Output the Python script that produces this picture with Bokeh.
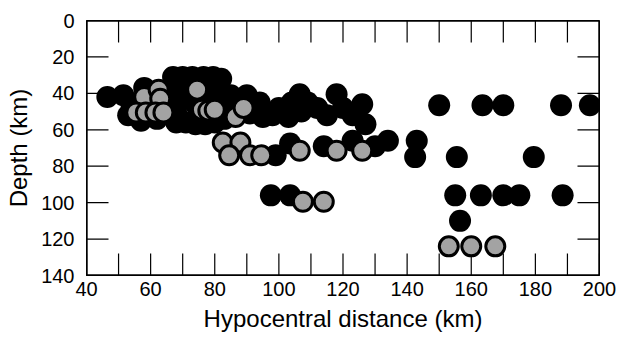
from bokeh.plotting import figure
from bokeh.models import Range1d, FixedTicker, ColumnDataSource
from bokeh.embed import file_html
from bokeh.resources import INLINE

# Black events (hypocentral distance km, depth km)
black_dist = [46.5, 51.5, 54, 53, 57, 58, 60, 62, 64, 65.5,
              67, 70, 73, 76.5, 79.5, 82,
              67, 69, 68, 68, 71, 74, 77, 80, 83,
              71, 74, 77, 80, 82, 85, 88, 90, 91, 94, 95, 98, 100, 103, 104, 106.5, 107, 109, 112, 115, 118, 120, 123, 127, 126,
              97.5, 103.5, 99, 103.5, 114, 123, 130, 134, 143, 142.5,
              150, 163.5, 170, 188, 197,
              155.5, 179.5, 155, 163, 170, 175, 188.5, 156.5]
black_depth = [42, 41, 46, 52, 55, 37, 44, 54, 40, 47,
               31, 31, 31, 31, 31, 32,
               38, 44, 51, 56, 56, 57, 57, 56, 54,
               40, 46, 40, 38, 45, 41, 46, 41, 51, 45, 53, 52, 48, 53, 45, 40.5, 50, 45, 48, 52, 40.5, 48, 52, 57, 46,
               96, 96, 74, 67.5, 69, 66, 69, 66, 66, 75,
               46.5, 46.5, 46.5, 46.5, 46.5,
               75, 75, 96, 96, 96, 96, 96, 110]

# Grey events
grey_dist = [58, 62.5, 63, 55.5, 58.5, 61.5, 64, 74.5, 76, 78, 80, 86.5, 89,
             82.5, 88, 84.5, 91, 94.5, 106.5, 118, 126, 107.5, 114,
             153, 160, 167.5]
grey_depth = [42, 38, 43, 50.5, 50.5, 50.5, 50.5, 38, 49, 49.5, 49, 53, 48,
              67, 67, 74, 74, 74, 71.5, 71.5, 71.5, 99.5, 99.5,
              124, 124, 124]

x_ticks = [40, 60, 80, 100, 120, 140, 160, 180, 200]
x_minor = [50, 70, 90, 110, 130, 150, 170, 190]
y_ticks = [0, 20, 40, 60, 80, 100, 120, 140]

FONT = "Liberation Sans"
W, H = 619, 337
BL, BR, BT, BB = 86, 20, 20, 62
TICK_PX = 22
LINE_PX = 1.2

x0, x1 = x_ticks[0], x_ticks[-1]
y0, y1 = y_ticks[-1], y_ticks[0]   # inverted depth axis

p = figure(width=W, height=H, output_backend="svg", toolbar_location=None,
           x_range=Range1d(x0, x1), y_range=Range1d(y0, y1),
           min_border_left=BL, min_border_right=BR, min_border_top=BT, min_border_bottom=BB,
           x_axis_label="Hypocentral distance (km)", y_axis_label="Depth (km)")
p.outline_line_color = "black"
p.outline_line_width = 1
p.grid.visible = False

for ax, ticks in ((p.xaxis[0], x_ticks), (p.yaxis[0], y_ticks)):
    ax.ticker = FixedTicker(ticks=ticks)
    ax.axis_line_color = "black"
    ax.major_tick_in = 0
    ax.major_tick_out = 0
    ax.minor_tick_line_color = None
    ax.major_label_text_font = FONT
    ax.major_label_text_font_size = "20px"
    ax.major_label_text_color = "black"
    ax.axis_label_text_font = FONT
    ax.axis_label_text_font_size = "24px"
    ax.axis_label_text_font_style = "normal"
    ax.axis_label_text_color = "black"
p.xaxis[0].major_label_standoff = 6
p.xaxis[0].axis_label_standoff = 6
p.yaxis[0].major_label_standoff = 12
p.yaxis[0].axis_label_standoff = 6

# pixel -> data unit conversions for the frame
frame_w = W - BL - BR
frame_h = H - BT - BB
kx = (x1 - x0) / frame_w
ky = (y0 - y1) / frame_h
tlx = TICK_PX * kx
tly = TICK_PX * ky
hw = 0.5 * LINE_PX * kx
hh = 0.5 * LINE_PX * ky

# inward tick marks on all four sides, drawn as thin filled bars
all_x = x_ticks + x_minor
q_left, q_right, q_bottom, q_top = [], [], [], []
for xv in all_x:
    q_left += [xv - hw, xv - hw]
    q_right += [xv + hw, xv + hw]
    q_bottom += [y0, y1]
    q_top += [y0 - tly, y1 + tly]
for yv in y_ticks:
    q_left += [x0, x1 - tlx]
    q_right += [x0 + tlx, x1]
    q_bottom += [yv - hh, yv - hh]
    q_top += [yv + hh, yv + hh]
# frame border bars
q_left += [x0, x1 - 2 * hw, x0, x0]
q_right += [x0 + 2 * hw, x1, x1, x1]
q_bottom += [y0, y0, y0, y1]
q_top += [y1, y1, y0 - 2 * hh, y1 + 2 * hh]

p.quad(left=q_left, right=q_right, bottom=q_bottom, top=q_top,
       fill_color="black", line_color=None)

bsrc = ColumnDataSource(dict(x=black_dist, y=black_depth))
gsrc = ColumnDataSource(dict(x=grey_dist, y=grey_depth))
p.scatter("x", "y", source=bsrc, size=22, fill_color="black", line_color=None)
p.scatter("x", "y", source=gsrc, size=19, fill_color="#a3a3a3", line_color="black", line_width=3)

open("out.html", "w").write(file_html(p, INLINE))
